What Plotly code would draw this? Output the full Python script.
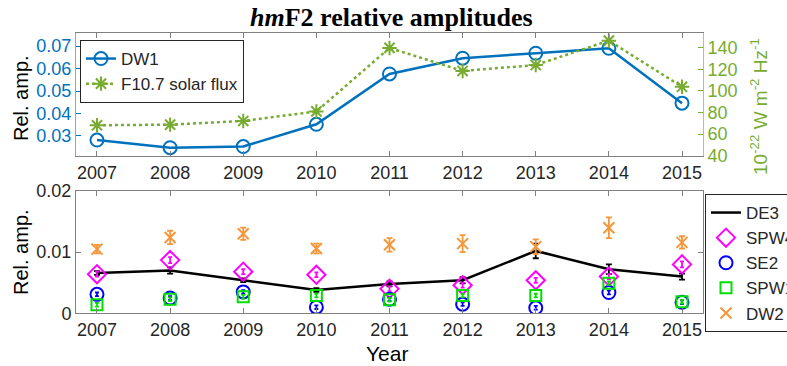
import plotly.graph_objects as go

years = [2007, 2008, 2009, 2010, 2011, 2012, 2013, 2014, 2015]

# Top panel
dw1 = [0.0282, 0.0248, 0.0253, 0.0352, 0.0576, 0.0646, 0.0668, 0.0690, 0.0446]
f107 = [68.2, 68.8, 72.2, 81.0, 139.7, 118.4, 123.9, 146.4, 103.8]

# Bottom panel
de3 = [0.0066, 0.0070, 0.0054, 0.0038, 0.0048, 0.0054, 0.0102, 0.0072, 0.0060]
de3_err = [0.0003, 0.0005, 0.0003, 0.0003, 0.0004, 0.0005, 0.0012, 0.0008, 0.0005]
spw4 = [0.0064, 0.0087, 0.0068, 0.0063, 0.0040, 0.0046, 0.0054, 0.0060, 0.0080]
spw4_err = [0.0004, 0.0005, 0.0004, 0.0004, 0.0004, 0.0004, 0.0004, 0.0004, 0.0005]
se2 = [0.0031, 0.0025, 0.0035, 0.0010, 0.0023, 0.0015, 0.0009, 0.0034, 0.0018]
se2_err = [0.0003, 0.0003, 0.0003, 0.0003, 0.0003, 0.0003, 0.0003, 0.0003, 0.0003]
spw1 = [0.0014, 0.0023, 0.0027, 0.0029, 0.0022, 0.0029, 0.0029, 0.0049, 0.0019]
spw1_err = [0.0003, 0.0003, 0.0003, 0.0003, 0.0003, 0.0003, 0.0003, 0.0003, 0.0003]
dw2 = [0.0105, 0.0124, 0.0130, 0.0106, 0.0112, 0.0114, 0.0109, 0.0140, 0.0116]
dw2_err = [0.0007, 0.0011, 0.0010, 0.0008, 0.0011, 0.0014, 0.0012, 0.0017, 0.0010]

BLUE = "#0072BD"
GREEN = "#77AC30"
ORANGE = "#F5963A"
FONT = "Liberation Sans, Arial, sans-serif"
W, H = 787, 366

def px_x(p):
    return p / W

def px_y(p):
    return 1 - p / H

fig = go.Figure()

fig.add_trace(go.Scatter(
    x=years, y=dw1, name="DW1", mode="lines+markers",
    line=dict(color=BLUE, width=2.5),
    marker=dict(symbol="circle-open", size=13, color=BLUE, line=dict(width=2, color=BLUE)),
    xaxis="x", yaxis="y", legend="legend"))
fig.add_trace(go.Scatter(
    x=years, y=f107, name="F10.7 solar flux", mode="lines+markers",
    line=dict(color=GREEN, width=2.5, dash="dot"),
    marker=dict(symbol="asterisk-open", size=12, color=GREEN, line=dict(width=2, color=GREEN)),
    xaxis="x", yaxis="y3", legend="legend"))

def eb(arr, color, w=3):
    return dict(type="data", array=arr, visible=True, color=color, thickness=1.8, width=w)

fig.add_trace(go.Scatter(
    x=years, y=de3, name="DE3", mode="lines", line=dict(color="black", width=2.5),
    error_y=eb(de3_err, "black"), xaxis="x2", yaxis="y2", legend="legend2"))
fig.add_trace(go.Scatter(
    x=years, y=spw4, name="SPW4", mode="markers",
    marker=dict(symbol="diamond-open", size=14, color="#FF00FF", line=dict(width=2, color="#FF00FF")),
    error_y=eb(spw4_err, "#FF00FF", 2), xaxis="x2", yaxis="y2", legend="legend2"))
fig.add_trace(go.Scatter(
    x=years, y=se2, name="SE2", mode="markers",
    marker=dict(symbol="circle-open", size=13, color="#0000FF", line=dict(width=2, color="#0000FF")),
    error_y=eb(se2_err, "#0000FF", 2), xaxis="x2", yaxis="y2", legend="legend2"))
fig.add_trace(go.Scatter(
    x=years, y=spw1, name="SPW1", mode="markers",
    marker=dict(symbol="square-open", size=11, color="#00E000", line=dict(width=2, color="#00E000")),
    error_y=eb(spw1_err, "#00E000", 2), xaxis="x2", yaxis="y2", legend="legend2"))
fig.add_trace(go.Scatter(
    x=years, y=dw2, name="DW2", mode="markers",
    marker=dict(symbol="x-thin-open", size=11, color=ORANGE, line=dict(width=2, color=ORANGE)),
    error_y=eb(dw2_err, ORANGE, 3), xaxis="x2", yaxis="y2", legend="legend2"))

xr = [2006.713, 2015.287]
dom_x = [px_x(76), px_x(703)]
tickfont = dict(family=FONT, size=18, color="#262626")
axcommon = dict(showgrid=False, zeroline=False, ticks="inside", ticklen=5, showline=True,
                linewidth=1, linecolor="#808080", tickcolor="#808080")

fig.update_layout(
    width=W, height=H, margin=dict(l=0, r=0, t=0, b=0, autoexpand=False),
    paper_bgcolor="white", plot_bgcolor="white",
    showlegend=True,
    xaxis=dict(domain=dom_x, range=xr, anchor="y", tickvals=years, ticktext=[str(y) for y in years],
               mirror="ticks", tickfont=tickfont, **axcommon),
    yaxis=dict(domain=[px_y(156), px_y(33)], range=[0.0211, 0.0758], anchor="x",
               tickvals=[0.03, 0.04, 0.05, 0.06, 0.07], tickformat=".2f",
               tickfont=dict(family=FONT, size=18, color=BLUE),
               showgrid=False, zeroline=False, ticks="inside", ticklen=5, showline=True,
               linewidth=1, linecolor="#8aa8c0", tickcolor=BLUE),
    yaxis3=dict(overlaying="y", side="right", anchor="x", range=[39.8, 153.5],
                tickvals=[40, 60, 80, 100, 120, 140],
                tickfont=dict(family=FONT, size=18, color=GREEN),
                showgrid=False, zeroline=False, ticks="inside", ticklen=5, showline=True,
                linewidth=1, linecolor="#a8c890", tickcolor=GREEN),
    xaxis2=dict(domain=dom_x, range=xr, anchor="y2", tickvals=years, ticktext=[str(y) for y in years],
                mirror="ticks", tickfont=tickfont, **axcommon),
    yaxis2=dict(domain=[px_y(313.3), px_y(191)], range=[0, 0.02], anchor="x2",
                tickvals=[0, 0.01, 0.02], ticktext=["0", "0.01", "0.02"],
                mirror="ticks", tickfont=tickfont, **axcommon),
    legend=dict(x=px_x(80), y=px_y(40), xanchor="left", yanchor="top",
                bgcolor="white", bordercolor="#262626", borderwidth=1,
                font=dict(family=FONT, size=17, color="#262626"),
                tracegroupgap=0, itemwidth=30),
    legend2=dict(x=px_x(705), y=px_y(194), xanchor="left", yanchor="top",
                 bgcolor="white", bordercolor="#262626", borderwidth=1,
                 font=dict(family=FONT, size=17, color="#262626"),
                 tracegroupgap=0, itemwidth=30),
)

ann = dict(xref="paper", yref="paper", showarrow=False, xanchor="center", yanchor="middle")
fig.add_annotation(x=px_x(391), y=px_y(17), text="<b><i>hm</i>F2 relative amplitudes</b>",
                   font=dict(family="Liberation Serif, Times New Roman, serif", size=26, color="black"), **ann)
fig.add_annotation(x=px_x(21), y=px_y(98), text="Rel. amp.", textangle=-90,
                   font=dict(family=FONT, size=20, color="black"), **ann)
fig.add_annotation(x=px_x(21), y=px_y(252), text="Rel. amp.", textangle=-90,
                   font=dict(family=FONT, size=20, color="black"), **ann)
fig.add_annotation(x=px_x(387), y=px_y(353), text="Year",
                   font=dict(family=FONT, size=21, color="black"), **ann)
fig.add_annotation(x=px_x(759), y=px_y(107), text="10<sup>-22</sup> W m<sup>-2</sup> Hz<sup>-1</sup>",
                   textangle=-90, font=dict(family=FONT, size=19, color=GREEN), **ann)

fig.write_html("out.html")
